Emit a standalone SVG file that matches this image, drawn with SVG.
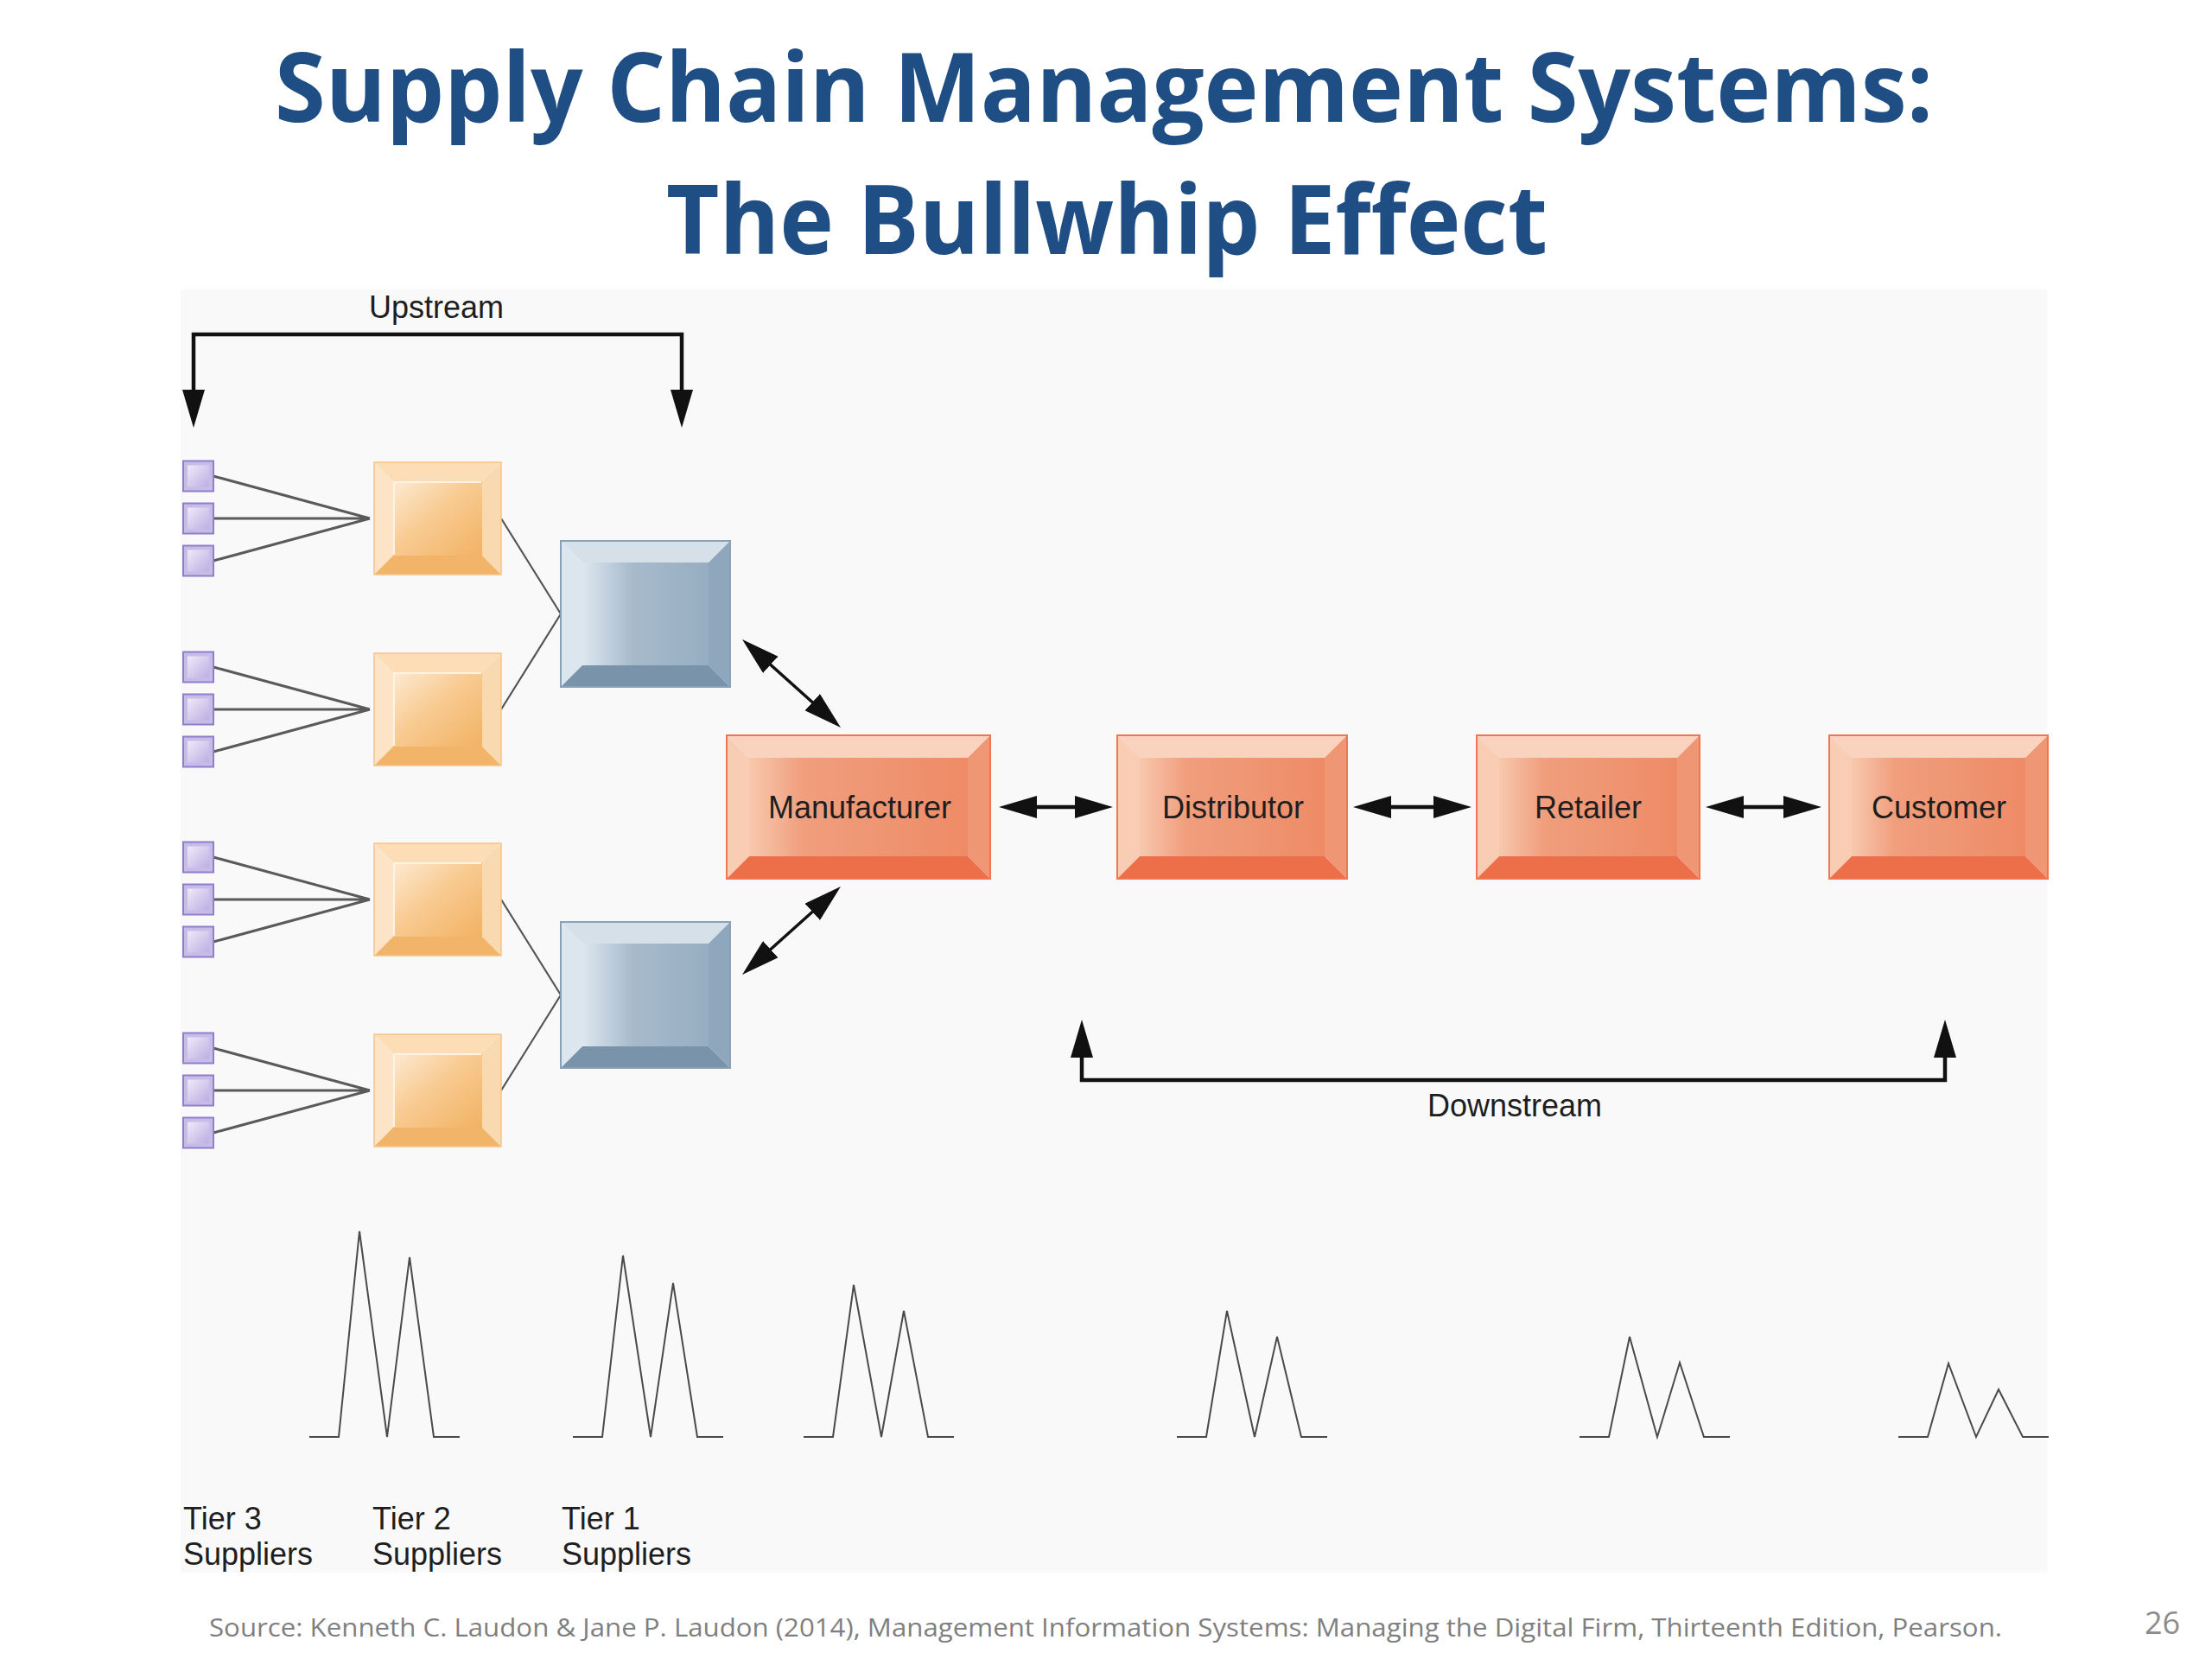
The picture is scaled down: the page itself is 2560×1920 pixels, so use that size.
<svg xmlns="http://www.w3.org/2000/svg" xmlns:xlink="http://www.w3.org/1999/xlink" width="2560" height="1920" viewBox="0 0 2560 1920">
<style>
  .title { font-family: "Open Sans", "Noto Sans", "Liberation Sans", sans-serif; font-weight: 700; font-size: 112px; fill: #1F4E84; }
  .lbl { font-family: "Liberation Sans", Arial, sans-serif; font-size: 36px; fill: #1E1E1E; }
  .src { font-family: "Open Sans", "Liberation Sans", sans-serif; font-size: 30px; fill: #7F7F7F; }
  .pg { font-family: "Open Sans", "Liberation Sans", sans-serif; font-size: 36px; fill: #8C8C8C; }
  .thin { fill: none; stroke: #5A5A5A; stroke-width: 3; }
  .link { fill: none; stroke: #555555; stroke-width: 2.2; }
  .arr { fill: none; stroke: #111111; stroke-width: 4.5; marker-start: url(#ah); marker-end: url(#ah); }
  .diag { fill: none; stroke: #111111; stroke-width: 3.5; marker-start: url(#ah); marker-end: url(#ah); }
  .wave { fill: none; stroke: #4A4A4A; stroke-width: 2; stroke-linejoin: miter; }
  .r-top { fill: #FAD3BF; } .r-left { fill: #F9CCB4; } .r-right { fill: #EF9774; } .r-bot { fill: #EC6F49; }
  .r-out { fill: none; stroke: #EE7752; stroke-width: 2; }
</style>
<defs>
  <marker id="ah" viewBox="0 0 44 26" refX="24" refY="13" markerWidth="44" markerHeight="26" markerUnits="userSpaceOnUse" orient="auto-start-reverse">
    <path d="M0,0 L44,13 L0,26 Z" fill="#111111"/>
  </marker>
  <linearGradient id="gOrange" x1="0" y1="0" x2="1" y2="1">
    <stop offset="0" stop-color="#FDEAD3"/>
    <stop offset="0.45" stop-color="#F8CB92"/>
    <stop offset="1" stop-color="#F2B263"/>
  </linearGradient>
  <linearGradient id="gBlue" x1="0" y1="0" x2="1" y2="0">
    <stop offset="0" stop-color="#DDE7EF"/>
    <stop offset="0.4" stop-color="#A6BACB"/>
    <stop offset="1" stop-color="#97AEC2"/>
  </linearGradient>
  <linearGradient id="gRed" x1="0" y1="0" x2="1" y2="0">
    <stop offset="0" stop-color="#F8C8AE"/>
    <stop offset="0.25" stop-color="#F09E7D"/>
    <stop offset="1" stop-color="#EE8B66"/>
  </linearGradient>
  <linearGradient id="gPurple" x1="0" y1="0" x2="1" y2="1">
    <stop offset="0" stop-color="#EEEAF9"/>
    <stop offset="1" stop-color="#BCAEE2"/>
  </linearGradient>
  <g id="orangeBox">
    <polygon points="0,0 147,0 125,22 22,22" fill="#FCDDB6"/>
    <polygon points="0,0 22,22 22,108 0,130" fill="#FDE4C6"/>
    <polygon points="147,0 147,130 125,108 125,22" fill="#F9D9AF"/>
    <polygon points="0,130 147,130 125,108 22,108" fill="#F2B468"/>
    <rect x="22" y="22" width="103" height="86" fill="url(#gOrange)"/>
    <polyline points="23,107 23,23 124,23" fill="none" stroke="#FFF3E4" stroke-width="2"/>
    <rect x="0" y="0" width="147" height="130" fill="none" stroke="#F5C488" stroke-width="1.5"/>
  </g>
  <g id="blueBox">
    <polygon points="0,0 196,0 171,25 25,25" fill="#D5E0E9"/>
    <polygon points="0,0 25,25 25,144 0,169" fill="#DCE6EE"/>
    <polygon points="196,0 196,169 171,144 171,25" fill="#8FA7BC"/>
    <polygon points="0,169 196,169 171,144 25,144" fill="#7993AB"/>
    <rect x="25" y="25" width="146" height="119" fill="url(#gBlue)"/>
    <rect x="0" y="0" width="196" height="169" fill="none" stroke="#8AA2B8" stroke-width="2"/>
  </g>
  <g id="purpleSq">
    <rect x="0" y="0" width="35" height="35" fill="#C7BCE8" stroke="#8E7ECB" stroke-width="2"/>
    <rect x="5" y="5" width="25" height="25" fill="url(#gPurple)"/>
  </g>
</defs>

<rect x="0" y="0" width="2560" height="1920" fill="#FFFFFF"/>
<rect x="209" y="335" width="2160" height="1485" fill="#F9F9F9"/>

<g id="title">
  <text class="title" x="318" y="141" textLength="1919" lengthAdjust="spacingAndGlyphs">Supply Chain Management Systems:</text>
  <text class="title" x="771" y="294" textLength="1020" lengthAdjust="spacingAndGlyphs">The Bullwhip Effect</text>
</g>

<g id="connectors">
  <path class="arr" d="M224,475 L224,387 L789,387 L789,475"/>
  <path class="arr" d="M1252,1200 L1252,1250 L2251,1250 L2251,1200"/>
  <path class="arr" d="M1176,934 L1268,934"/>
  <path class="arr" d="M1586,934 L1683,934"/>
  <path class="arr" d="M1994,934 L2088,934"/>
  <path class="diag" d="M873.9,753.3 L958.1,828.7"/>
  <path class="diag" d="M958.1,1039.3 L873.9,1114.7"/>
  <path class="thin" d="M247,551 L428,600 M247,600 L428,600 M247,649 L428,600"/>
  <path class="thin" d="M247,772 L428,821 M247,821 L428,821 M247,870 L428,821"/>
  <path class="thin" d="M247,992 L428,1041 M247,1041 L428,1041 M247,1090 L428,1041"/>
  <path class="thin" d="M247,1213 L428,1262 M247,1262 L428,1262 M247,1311 L428,1262"/>
  <path class="link" d="M580,600 L649,710.5 M580,821 L649,710.5"/>
  <path class="link" d="M580,1041 L649,1151.5 M580,1262 L649,1151.5"/>
</g>

<g id="tier3-suppliers">
  <use href="#purpleSq" x="212" y="533.5"/>
  <use href="#purpleSq" x="212" y="582.5"/>
  <use href="#purpleSq" x="212" y="631.5"/>
  <use href="#purpleSq" x="212" y="754.5"/>
  <use href="#purpleSq" x="212" y="803.5"/>
  <use href="#purpleSq" x="212" y="852.5"/>
  <use href="#purpleSq" x="212" y="974.5"/>
  <use href="#purpleSq" x="212" y="1023.5"/>
  <use href="#purpleSq" x="212" y="1072.5"/>
  <use href="#purpleSq" x="212" y="1195.5"/>
  <use href="#purpleSq" x="212" y="1244.5"/>
  <use href="#purpleSq" x="212" y="1293.5"/>
</g>

<g id="tier2-suppliers">
  <use href="#orangeBox" x="433" y="535"/>
  <use href="#orangeBox" x="433" y="756"/>
  <use href="#orangeBox" x="433" y="976"/>
  <use href="#orangeBox" x="433" y="1197"/>
</g>

<g id="tier1-suppliers">
  <use href="#blueBox" x="649" y="626"/>
  <use href="#blueBox" x="649" y="1067"/>
</g>

<g id="manufacturer">
  <polygon class="r-top" points="841,851 1146,851 1120,877 867,877"/>
  <polygon class="r-left" points="841,851 867,877 867,991 841,1017"/>
  <polygon class="r-right" points="1146,851 1146,1017 1120,991 1120,877"/>
  <polygon class="r-bot" points="841,1017 1146,1017 1120,991 867,991"/>
  <rect x="867" y="877" width="253" height="114" fill="url(#gRed)"/>
  <rect class="r-out" x="841" y="851" width="305" height="166"/>
  <text class="lbl" x="995" y="947" text-anchor="middle">Manufacturer</text>
</g>

<g id="distributor">
  <polygon class="r-top" points="1293,851 1559,851 1533,877 1319,877"/>
  <polygon class="r-left" points="1293,851 1319,877 1319,991 1293,1017"/>
  <polygon class="r-right" points="1559,851 1559,1017 1533,991 1533,877"/>
  <polygon class="r-bot" points="1293,1017 1559,1017 1533,991 1319,991"/>
  <rect x="1319" y="877" width="214" height="114" fill="url(#gRed)"/>
  <rect class="r-out" x="1293" y="851" width="266" height="166"/>
  <text class="lbl" x="1427" y="947" text-anchor="middle">Distributor</text>
</g>

<g id="retailer">
  <polygon class="r-top" points="1709,851 1967,851 1941,877 1735,877"/>
  <polygon class="r-left" points="1709,851 1735,877 1735,991 1709,1017"/>
  <polygon class="r-right" points="1967,851 1967,1017 1941,991 1941,877"/>
  <polygon class="r-bot" points="1709,1017 1967,1017 1941,991 1735,991"/>
  <rect x="1735" y="877" width="206" height="114" fill="url(#gRed)"/>
  <rect class="r-out" x="1709" y="851" width="258" height="166"/>
  <text class="lbl" x="1838" y="947" text-anchor="middle">Retailer</text>
</g>

<g id="customer">
  <polygon class="r-top" points="2117,851 2370,851 2344,877 2143,877"/>
  <polygon class="r-left" points="2117,851 2143,877 2143,991 2117,1017"/>
  <polygon class="r-right" points="2370,851 2370,1017 2344,991 2344,877"/>
  <polygon class="r-bot" points="2117,1017 2370,1017 2344,991 2143,991"/>
  <rect x="2143" y="877" width="201" height="114" fill="url(#gRed)"/>
  <rect class="r-out" x="2117" y="851" width="253" height="166"/>
  <text class="lbl" x="2244" y="947" text-anchor="middle">Customer</text>
</g>

<g id="flow-labels">
  <text class="lbl" x="505" y="368" text-anchor="middle">Upstream</text>
  <text class="lbl" x="1753" y="1292" text-anchor="middle">Downstream</text>
</g>

<g id="bullwhip-waves">
  <polyline class="wave" points="358,1663 392,1663 416,1425 448,1663 474,1455 502,1663 532,1663"/>
  <polyline class="wave" points="663,1663 697,1663 721,1453 753,1663 779,1485 807,1663 837,1663"/>
  <polyline class="wave" points="930,1663 964,1663 988,1487 1020,1663 1046,1517 1074,1663 1104,1663"/>
  <polyline class="wave" points="1362,1663 1396,1663 1420,1517 1452,1663 1478,1547 1506,1663 1536,1663"/>
  <polyline class="wave" points="1828,1663 1862,1663 1886,1547 1918,1663 1944,1577 1972,1663 2002,1663"/>
  <polyline class="wave" points="2197,1663 2231,1663 2255,1578 2287,1663 2313,1608 2341,1663 2371,1663"/>
</g>

<g id="tier-labels">
  <text class="lbl" x="212" y="1770">Tier 3</text>
  <text class="lbl" x="212" y="1811">Suppliers</text>
  <text class="lbl" x="431" y="1770">Tier 2</text>
  <text class="lbl" x="431" y="1811">Suppliers</text>
  <text class="lbl" x="650" y="1770">Tier 1</text>
  <text class="lbl" x="650" y="1811">Suppliers</text>
</g>

<g id="footer">
  <text class="src" x="242" y="1894" textLength="2075" lengthAdjust="spacingAndGlyphs">Source: Kenneth C. Laudon &amp; Jane P. Laudon (2014), Management Information Systems: Managing the Digital Firm, Thirteenth Edition, Pearson.</text>
  <text class="pg" x="2482" y="1891">26</text>
</g>
</svg>
